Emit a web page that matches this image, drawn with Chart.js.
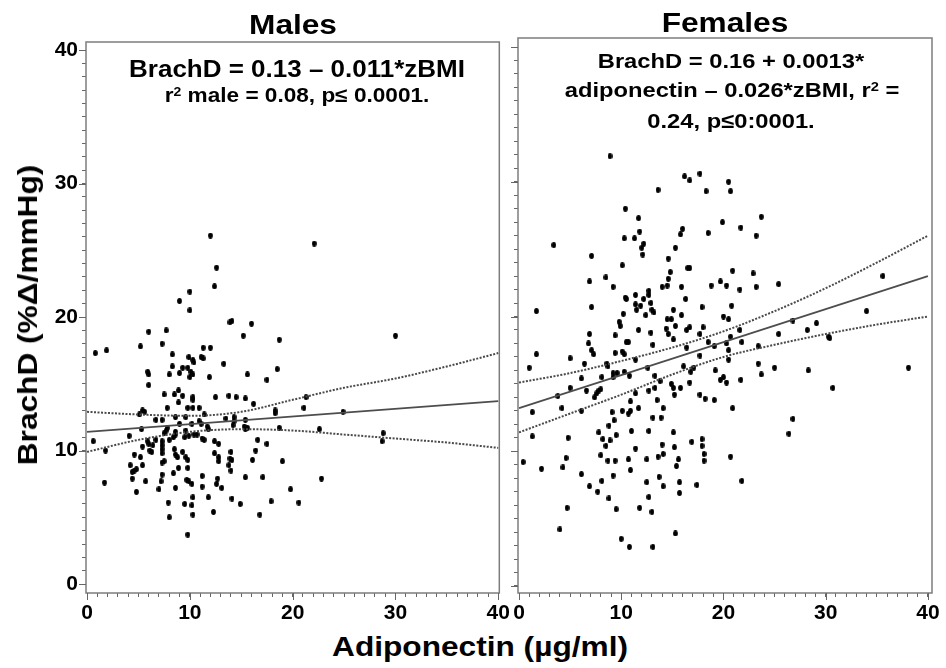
<!DOCTYPE html>
<html>
<head>
<meta charset="utf-8">
<script src="https://cdn.jsdelivr.net/npm/chart.js@4.4.0/dist/chart.umd.min.js"></script>
<style>
  html, body { margin: 0; padding: 0; background: #fff; }
  #wrap { position: relative; width: 946px; height: 668px; overflow: hidden;
          font-family: "Liberation Sans", Arial, sans-serif; font-weight: bold; color: #000; }
  #wrap canvas { position: absolute; top: 0; }
  .t { position: absolute; white-space: nowrap; line-height: 1; transform-origin: center; }
  .t sup { font-size: 0.62em; vertical-align: 0.5em; line-height: 0; }
</style>
</head>
<body>
<div id="wrap">
  <canvas id="males" width="514" height="630" style="left:0;width:514px;height:630px"></canvas>
  <canvas id="females" width="446" height="630" style="left:500px;width:446px;height:630px"></canvas>
</div>
<script>
// ---- data ----
const majorTicks = [0, 10, 20, 30, 40];

const maleAdipo = [12.0,12.6,10.0,12.4,9.0,10.0,13.9,14.1,16.0,6.0,7.7,15.2,18.7,0.8,1.9,5.2,7.3,12.0,11.3,8.3,
  9.9,11.1,11.3,10.3,10.4,13.3,18.5,8.3,5.9,6.0,9.3,9.8,9.0,10.1,10.3,10.0,8.0,11.9,15.6,17.5,
  22.1,30.0,21.3,6.0,7.5,8.5,8.9,9.3,10.3,10.3,12.5,13.8,14.5,15.4,8.9,7.8,9.8,10.3,10.9,16.2,
  18.3,18.3,5.1,5.4,5.6,6.7,7.3,8.6,9.6,11.4,13.5,14.3,14.3,15.4,5.3,7.7,7.8,9.0,10.2,10.9,
  11.1,11.7,11.8,14.2,15.3,15.4,15.6,18.7,4.1,7.5,8.6,8.6,9.6,9.9,9.5,10.4,10.7,11.2,11.4,0.6,
  1.8,5.9,6.0,6.4,6.7,7.3,7.3,8.0,8.4,12.4,12.8,16.6,17.5,5.4,6.1,6.3,7.3,8.5,16.4,4.6,
  5.2,7.3,8.6,8.8,9.3,9.6,9.8,12.4,12.8,14.0,13.9,14.1,16.1,19.0,4.2,4.6,4.4,4.8,5.4,7.3,
  7.5,8.9,9.8,12.8,13.8,14.0,4.4,5.7,7.3,7.2,8.4,9.7,9.9,10.2,11.2,11.2,12.7,12.6,13.1,15.4,
  17.1,1.7,4.8,7.0,8.6,10.3,11.8,14.1,14.9,17.9,7.9,9.5,10.2,10.3,12.3,16.8,8.0,9.8,21.1,24.9,
  22.6,28.8,28.7,22.8,19.8,20.6];
const maleBrach = [26.1,23.7,21.9,22.3,21.2,20.5,19.6,19.7,19.5,18.9,19.0,18.6,18.3,17.3,17.5,17.8,18.0,17.7,17.7,17.2,
  17.0,17.0,16.9,16.8,16.6,16.5,16.1,16.3,15.9,15.7,16.2,16.2,15.8,15.9,15.7,15.5,15.7,15.5,15.7,15.3,
  25.5,18.6,14.0,14.9,14.2,14.2,14.5,14.1,14.0,13.8,14.0,14.1,14.0,13.9,13.6,13.2,13.2,13.2,13.2,13.5,
  13.0,12.8,12.7,13.0,12.9,12.3,12.3,12.5,12.5,12.7,12.4,12.5,12.2,12.3,11.6,11.5,11.7,12.0,12.0,12.2,
  12.0,11.8,11.6,11.9,11.8,11.6,11.7,11.7,11.1,11.3,11.4,11.2,11.5,11.1,11.0,11.2,11.2,10.9,10.8,10.7,
  10.0,10.7,10.5,10.4,10.8,10.7,10.4,10.8,11.0,10.7,10.5,10.8,10.5,10.3,10.0,9.9,10.1,10.1,10.0,9.7,
  9.5,9.8,9.7,9.5,9.9,9.5,9.3,9.8,9.5,9.9,9.4,9.3,9.3,9.2,8.9,8.5,8.4,8.6,8.9,9.1,
  9.2,8.7,8.7,9.2,8.9,8.5,7.9,7.7,8.2,7.7,8.3,7.8,7.7,7.5,8.1,7.3,7.9,7.5,7.2,8.0,
  8.0,7.6,6.9,7.1,7.2,6.5,6.5,6.4,6.0,6.2,6.1,6.0,5.9,5.2,5.4,5.2,5.0,3.7,13.2,12.9,
  11.6,11.3,10.7,7.9,7.1,6.1];

const femaleAdipo = [8.9,3.4,1.7,13.6,16.2,16.7,17.7,18.3,20.5,20.7,10.4,11.7,11.8,10.3,11.3,12.2,12.0,12.1,16.0,15.8,
  18.5,19.9,15.3,7.1,10.1,14.6,16.5,16.7,14.8,8.5,6.9,9.2,14.6,14.5,14.0,15.9,18.8,19.7,20.3,12.7,
  12.7,11.4,10.4,10.5,12.2,11.9,12.9,11.4,11.5,13.0,13.2,16.3,7.1,12.4,15.1,15.9,17.9,10.2,9.8,9.9,
  14.5,14.9,15.3,20.0,20.5,11.7,12.9,14.4,14.6,16.4,16.7,18.0,6.9,9.4,17.7,25.4,23.7,23.2,21.7,22.9,
  20.9,21.6,23.2,20.8,35.6,26.8,29.1,28.2,34.0,30.3,30.4,25.4,21.6,20.7,6.8,7.1,7.3,10.5,10.7,10.1,
  10.3,9.4,13.1,15.1,16.4,18.5,20.3,20.5,1.7,5.0,6.4,8.6,8.7,11.4,12.6,16.1,17.7,19.1,20.5,1.0,
  6.1,8.1,9.2,9.6,9.2,10.3,10.8,13.3,16.8,17.1,19.2,19.7,20.0,20.3,5.0,3.8,6.6,7.6,7.8,8.0,
  7.4,13.8,13.3,12.7,14.9,15.1,15.2,15.8,16.7,11.4,13.5,17.7,18.2,19.1,1.3,4.2,6.1,9.1,9.3,8.8,
  10.1,10.7,10.9,10.9,11.7,14.1,13.1,13.9,9.5,7.8,8.2,8.9,8.5,11.0,12.7,15.1,1.3,4.8,11.4,14.0,
  15.2,16.9,17.9,17.9,18.1,18.1,20.7,0.4,2.2,4.6,4.3,8.0,8.7,9.4,10.7,10.9,12.5,13.6,14.1,15.6,
  15.4,6.1,9.2,6.9,8.1,7.7,13.7,12.5,14.1,15.7,15.7,17.4,8.8,12.7,4.7,9.5,11.8,13.0,4.0,10.0,
  10.8,13.1,15.3,21.8,23.4,21.8,23.4,23.7,25.0,28.3,30.7,38.1,21.7,20.9,26.8,26.4];
const femaleBrach = [31.9,25.3,20.4,29.4,30.4,30.1,30.6,29.3,30.0,29.3,28.0,27.3,26.3,25.8,25.8,25.4,25.1,24.6,26.5,26.1,
  26.2,27.0,25.1,24.5,23.8,24.3,23.6,23.6,23.3,22.9,22.6,22.2,22.8,22.3,22.2,22.2,22.3,22.6,22.3,21.9,
  21.6,21.6,21.4,21.3,21.3,20.8,21.0,20.9,20.5,20.5,20.3,21.3,20.7,20.1,20.5,20.1,20.7,20.2,19.6,19.3,
  19.8,19.8,19.3,20.0,19.8,19.0,18.8,19.1,18.7,19.0,19.2,19.2,18.7,18.6,18.7,22.4,27.4,26.0,26.6,23.2,
  23.4,22.0,22.2,20.8,23.0,19.7,19.5,19.0,20.4,18.5,18.4,18.7,19.0,18.5,18.0,17.5,17.2,18.1,18.1,17.4,
  17.2,17.3,17.9,18.3,17.7,18.1,18.0,17.5,17.2,16.9,16.5,16.5,16.3,16.8,16.2,16.3,17.1,17.8,16.8,16.2,
  15.4,15.5,15.8,15.8,15.5,15.9,15.6,15.6,15.9,16.2,16.0,15.3,15.5,15.1,14.7,14.1,14.5,14.3,14.5,14.6,
  14.0,15.2,14.7,14.5,15.0,14.7,14.2,14.7,15.1,14.3,13.8,14.2,13.9,13.8,12.9,13.2,13.0,12.9,12.3,11.9,
  13.0,12.8,13.0,13.7,13.2,13.2,12.5,12.5,11.2,11.4,10.9,10.8,10.4,11.5,11.5,11.4,11.1,11.0,10.2,10.5,
  10.3,10.7,10.9,10.4,9.8,9.3,9.6,9.2,8.7,9.5,8.8,9.7,9.3,9.3,9.4,8.6,9.4,9.6,9.8,9.4,
  8.9,8.3,8.2,7.4,7.8,7.0,8.1,7.7,7.4,7.7,6.9,7.5,6.5,6.6,5.8,5.7,5.8,5.5,4.2,3.5,
  2.9,2.9,3.9,7.8,17.8,18.1,16.5,15.7,16.2,16.0,14.7,16.2,15.3,13.2,12.4,11.3];

// fitted line and 95% band, read at these adiponectin values
const bandX = [0, 5, 10, 15, 20, 25, 30, 35, 40];
const maleFitEnds = [11.4, 13.7];
const maleUpper = [12.9, 12.7, 12.6, 12.9, 13.8, 14.7, 15.4, 16.3, 17.3];
const maleLower = [9.9, 10.8, 11.4, 11.6, 11.5, 11.2, 10.9, 10.6, 10.2];
const femaleFitEnds = [13.2, 23.0];
const femaleUpper = [15.1, 15.8, 16.7, 17.7, 18.9, 20.4, 22.1, 24.0, 26.0];
const femaleLower = [11.4, 12.8, 14.2, 15.7, 17.0, 17.9, 18.7, 19.4, 20.0];

const FONT = '"Liberation Sans", Arial, sans-serif';
const minorTicks = Array.from({ length: 41 }, (_, i) => i);

function dotImage() {
  const c = document.createElement('canvas');
  c.width = 5; c.height = 6;
  const g = c.getContext('2d');
  g.fillStyle = '#000';
  g.beginPath(); g.ellipse(2.5, 3, 2.4, 3, 0, 0, Math.PI * 2); g.fill();
  return c;
}
const DOT = dotImage();

const zip = (xs, ys) => xs.map((x, i) => ({ x, y: ys[i] }));

// frame + longer major ticks
const framePlugin = {
  id: 'frame',
  afterDraw(chart) {
    const { ctx, chartArea: a, scales } = chart;
    ctx.save();
    ctx.strokeStyle = '#7d7d7d';
    ctx.lineWidth = 1.5;
    ctx.strokeRect(a.left, a.top, a.right - a.left, a.bottom - a.top);
    ctx.strokeStyle = '#666';
    ctx.lineWidth = 1;
    ctx.beginPath();
    majorTicks.forEach(v => {
      const x = Math.round(scales.x.getPixelForValue(v)) + 0.5;
      ctx.moveTo(x, a.bottom); ctx.lineTo(x, a.bottom + 7);
      const y = Math.round(scales.y.getPixelForValue(v)) + 0.5;
      ctx.moveTo(a.left, y); ctx.lineTo(a.left - 7, y);
    });
    ctx.stroke();
    ctx.restore();
  }
};

function makePanel(id, cfg) {
  const tickFont = { family: FONT, size: 21, weight: 'bold' };
  const band = ys => ({ data: zip(bandX, ys), showLine: true, pointRadius: 0, borderColor: '#4a4a4a',
    borderWidth: 2, borderDash: [2, 1.5], cubicInterpolationMode: 'monotone' });
  return new Chart(document.getElementById(id), {
    type: 'scatter',
    data: {
      datasets: [
        band(cfg.upper),
        band(cfg.lower),
        { data: zip([0, 40], cfg.fit), showLine: true, pointRadius: 0, borderColor: '#4d4d4d',
          borderWidth: 1.7 },
        { data: zip(cfg.xs, cfg.ys), pointStyle: DOT, pointRadius: 2.5 },
      ]
    },
    options: {
      responsive: false,
      animation: false,
      layout: { padding: cfg.padding },
      plugins: { legend: { display: false }, tooltip: { enabled: false } },
      scales: {
        x: {
          type: 'linear', min: cfg.xMin, max: cfg.xMax,
          afterBuildTicks: s => { s.ticks = minorTicks.map(v => ({ value: v })); },
          afterFit: s => { s.height = 37; },
          border: { display: false },
          grid: { drawOnChartArea: false, tickLength: 4, tickColor: '#666' },
          ticks: { autoSkip: false, maxRotation: 0, padding: 4, color: '#000', font: tickFont,
                   callback: v => majorTicks.includes(v) ? String(v) : '' }
        },
        y: {
          type: 'linear', min: cfg.yMin, max: cfg.yMax,
          afterBuildTicks: s => { s.ticks = minorTicks.map(v => ({ value: v })); },
          afterFit: s => { s.width = cfg.yWidth; },
          border: { display: false },
          grid: { drawOnChartArea: false, tickLength: 4, tickColor: '#666' },
          ticks: { autoSkip: false, padding: 4, color: '#000', font: tickFont,
                   callback: v => (cfg.yLabels && majorTicks.includes(v)) ? String(v) : '' }
        }
      }
    },
    plugins: [framePlugin]
  });
}

makePanel('males', {
  xs: maleAdipo, ys: maleBrach, fit: maleFitEnds, upper: maleUpper, lower: maleLower,
  xMin: -0.1, xMax: 40.1, yMin: -0.67, yMax: 40.6,
  padding: { top: 42, right: 14, left: 0, bottom: 0 }, yWidth: 86, yLabels: true
});
makePanel('females', {
  xs: femaleAdipo, ys: femaleBrach, fit: femaleFitEnds, upper: femaleUpper, lower: femaleLower,
  xMin: -0.1, xMax: 40.4, yMin: -0.52, yMax: 40.67,
  padding: { top: 38, right: 14, left: 10, bottom: 0 }, yWidth: 8, yLabels: false
});

// ---- text ----
const wrap = document.getElementById('wrap');
function text(html, cx, baseline, size, sx, rotate) {
  const d = document.createElement('div');
  d.className = 't';
  d.innerHTML = html;
  d.style.fontSize = size + 'px';
  wrap.appendChild(d);
  d.style.left = cx + 'px';
  if (rotate) {
    d.style.top = baseline + 'px';
    d.style.transform = `translate(-50%,-50%) rotate(-90deg) scaleX(${sx})`;
  } else {
    d.style.top = (baseline - 0.85 * size) + 'px';
    d.style.transform = `translateX(-50%) scaleX(${sx})`;
  }
}
text('Males', 293, 35, 28, 1.13);
text('Females', 725, 33, 28, 1.13);
text('BrachD = 0.13 – 0.011*zBMI', 297, 78, 23, 1.13);
text('r<sup>2</sup> male = 0.08, p≤ 0.0001.', 297, 102, 20, 1.13);
text('BrachD = 0.16 + 0.0013*', 731, 68, 21, 1.13);
text('adiponectin – 0.026*zBMI, r<sup>2</sup> =', 732, 97, 21, 1.13);
text('0.24, p≤0:0001.', 731, 128, 21, 1.13);
text('Adiponectin (µg/ml)', 480, 657, 28, 1.13);
text('BrachD (%Δ/mmHg)', 28, 315, 28, 1.13, true);
</script>
</body>
</html>
